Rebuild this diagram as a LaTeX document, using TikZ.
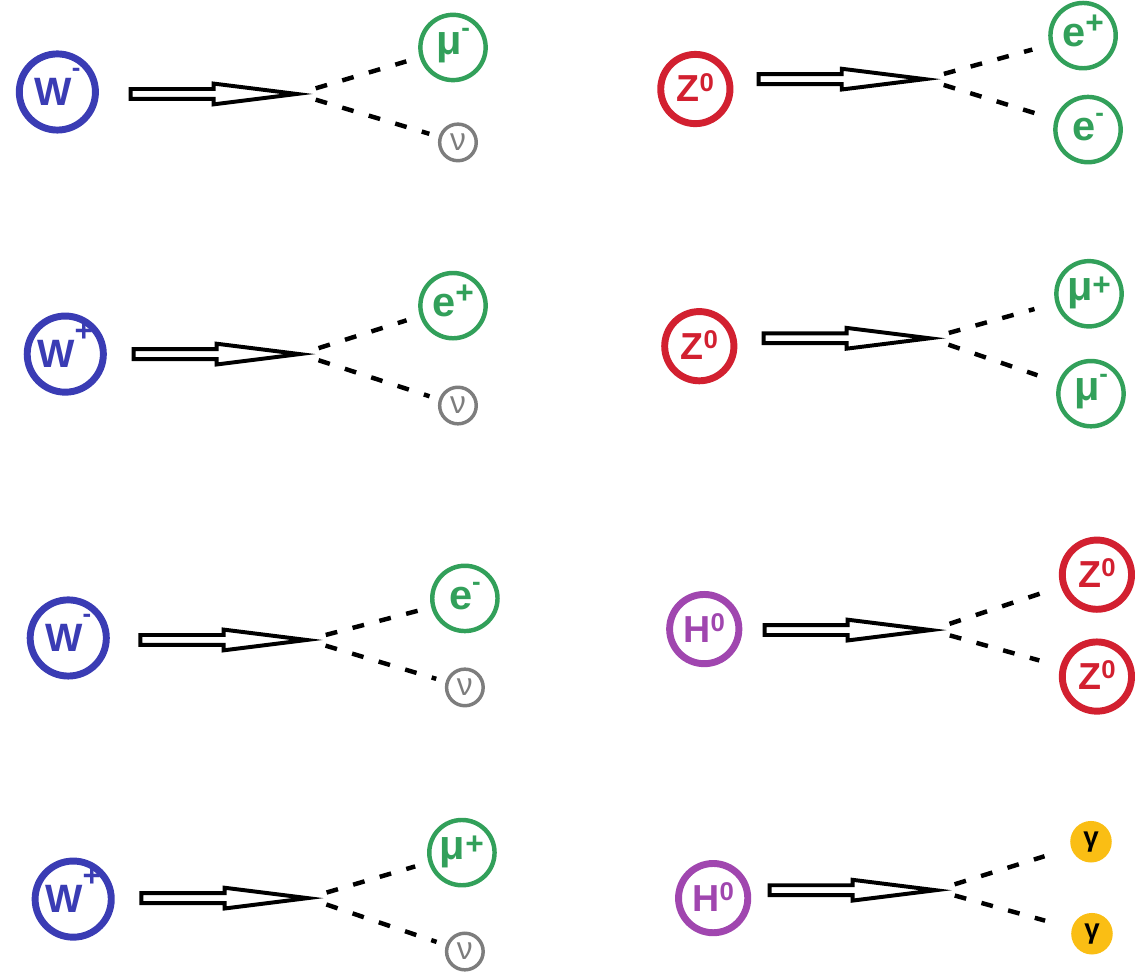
\documentclass[tikz,border=0pt]{standalone}
\usepackage{fontspec}
\setmainfont{Liberation Sans}
\usetikzlibrary{calc,positioning}

\newcommand{\up}[3]{\smash{\raisebox{#1}{\fontsize{#2}{#2}\selectfont #3}}}

\begin{document}
\begin{tikzpicture}[
            x=1pt,y=-1pt,
            decay/.style={draw,fill=white,line width=4pt,
                to path={($(\tikztostart)+(0,5)$) -- ($(\tikztostart)!.5!(\tikztotarget)+(0,5)$)
                    -- ($(\tikztostart)!.5!(\tikztotarget)+(0,10.5)$) -- (\tikztotarget)
                    -- ($(\tikztostart)!.5!(\tikztotarget)+(0,-10.5)$) -- ($(\tikztostart)!.5!(\tikztotarget)+(0,-5)$)
                    -- ($(\tikztostart)+(0,-5)$) -- cycle}},
            prong/.style={draw,line width=4.5pt,dash pattern=on 12pt off 16pt,shorten <=20pt,shorten >=#1},
            prong/.default=14pt
        ]
            \definecolor{wblue}{RGB}{58,60,180}
            \definecolor{zred}{RGB}{210,32,48}
            \definecolor{hpurple}{RGB}{160,70,175}
            \definecolor{lgreen}{RGB}{50,160,90}
            \definecolor{nugrey}{RGB}{125,125,125}
            \definecolor{gyellow}{RGB}{250,190,20}
            \tikzset{
                wbos/.style={circle,draw=wblue,text=wblue,line width=7pt,minimum size=77pt,inner sep=0pt,font=\fontsize{40}{40}\selectfont\bfseries},
                zbos/.style={circle,draw=zred,text=zred,line width=7pt,minimum size=70pt,inner sep=0pt,font=\fontsize{38}{38}\selectfont\bfseries},
                hbos/.style={zbos,draw=hpurple,text=hpurple},
                lep/.style={circle,draw=lgreen,text=lgreen,line width=4.5pt,minimum size=66pt,inner sep=0pt,font=\fontsize{42}{42}\selectfont\bfseries},
                nu/.style={circle,draw=nugrey,text=nugrey,line width=3.5pt,minimum size=37pt,inner sep=0pt,font=\fontsize{32}{32}\selectfont},
                pho/.style={circle,fill=gyellow,minimum size=42pt,inner sep=0pt,font=\fontsize{28}{28}\selectfont\bfseries}
            }

            % W decays
            \node[wbos] (w1) at (58,93)  {W\up{29pt}{26}{-}};
            \node[wbos] (w2) at (66,358) {W\up{27pt}{32}{+}};
            \node[wbos] (w3) at (69,645) {W\up{29pt}{26}{-}};
            \node[wbos] (w4) at (74,909) {W\up{27pt}{32}{+}};

            \node[lep] (l1) at (458,48)  {μ\up{18pt}{26}{-}};
            \node[nu]  (n1) at (463,144) {ν};
            \node[lep] (l2) at (458,309) {e\up{13pt}{32}{+}};
            \node[nu]  (n2) at (463,410) {ν};
            \node[lep] (l3) at (470,605) {e\up{19pt}{26}{-}};
            \node[nu]  (n3) at (470,695) {ν};
            \node[lep] (l4) at (467,862) {μ\up{5pt}{32}{+}};
            \node[nu]  (n4) at (470,962) {ν};

            \coordinate (t1) at (132,95);
            \coordinate (t2) at (135,358);
            \coordinate (t3) at (142,647);
            \coordinate (t4) at (143,908);
            \coordinate[right=168pt of t1] (p1);
            \coordinate[right=168pt of t2] (p2);
            \coordinate[right=168pt of t3] (p3);
            \coordinate[right=168pt of t4] (p4);

            \draw[decay] (t1) to (p1);
            \draw[decay] (t2) to (p2);
            \draw[decay] (t3) to (p3);
            \draw[decay] (t4) to (p4);
            \draw[prong] (p1) -- (l1);  \draw[prong=10pt] (p1) -- (n1);
            \draw[prong] (p2) -- (l2);  \draw[prong=10pt] (p2) -- (n2);
            \draw[prong] (p3) -- (l3);  \draw[prong=10pt] (p3) -- (n3);
            \draw[prong] (p4) -- (l4);  \draw[prong=10pt] (p4) -- (n4);

            % Z and H decays
            \node[zbos] (z1) at (703,90)  {Z\up{11pt}{26}{0}};
            \node[zbos] (z2) at (707,350) {Z\up{11pt}{26}{0}};
            \node[hbos] (h1) at (712,636) {H\up{11pt}{26}{0}};
            \node[hbos] (h2) at (721,908) {H\up{11pt}{26}{0}};

            \node[lep]  (r1a) at (1095,36)  {e\up{13pt}{32}{+}};
            \node[lep]  (r1b) at (1100,131) {e\up{19pt}{26}{-}};
            \node[lep]  (r2a) at (1101,297) {μ\up{5pt}{32}{+}};
            \node[lep]  (r2b) at (1103,398) {μ\up{18pt}{26}{-}};
            \node[zbos] (r3a) at (1109,581) {Z\up{11pt}{26}{0}};
            \node[zbos] (r3b) at (1109,684) {Z\up{11pt}{26}{0}};
            \node[pho]  (r4a) at (1103,851) {γ};
            \node[pho]  (r4b) at (1104,944) {γ};

            \coordinate (t5) at (767,80);
            \coordinate (t6) at (772,342);
            \coordinate (t7) at (773,637);
            \coordinate (t8) at (778,900);
            \coordinate[right=168pt of t5] (p5);
            \coordinate[right=168pt of t6] (p6);
            \coordinate[right=168pt of t7] (p7);
            \coordinate[right=168pt of t8] (p8);

            \draw[decay] (t5) to (p5);
            \draw[decay] (t6) to (p6);
            \draw[decay] (t7) to (p7);
            \draw[decay] (t8) to (p8);
            \draw[prong=18pt] (p5) -- (r1a);  \draw[prong=18pt] (p5) -- (r1b);
            \draw[prong=22pt] (p6) -- (r2a);  \draw[prong=22pt] (p6) -- (r2b);
            \draw[prong=22pt] (p7) -- (r3a);  \draw[prong=22pt] (p7) -- (r3b);
            \draw[prong=28pt] (p8) -- (r4a);  \draw[prong=28pt] (p8) -- (r4b);

            \useasboundingbox (0,0) rectangle (1135,974);
        \end{tikzpicture}
\end{document}
